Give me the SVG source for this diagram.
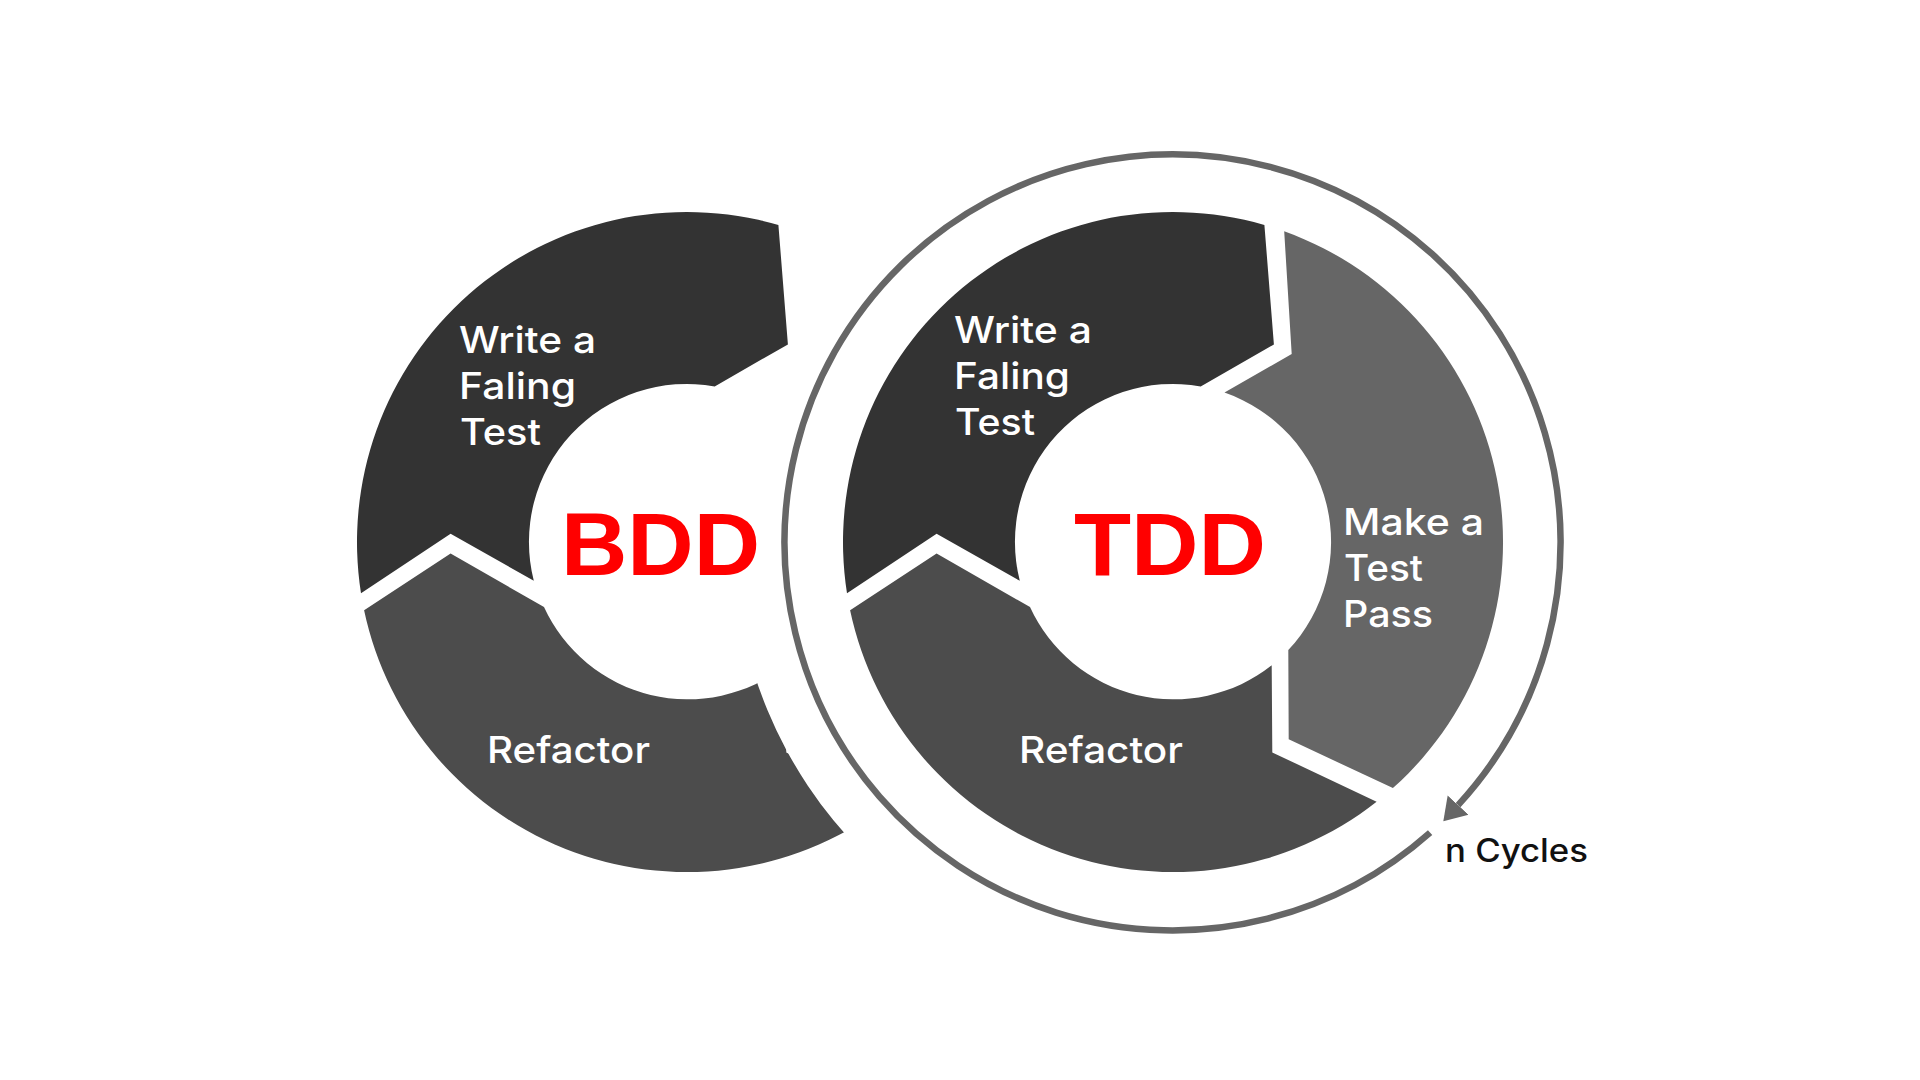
<svg xmlns="http://www.w3.org/2000/svg" width="1920" height="1080" viewBox="0 0 1920 1080">
  <style>
    .seg-dark { fill: #333333; }
    .seg-mid { fill: #4c4c4c; }
    .seg-light { fill: #666666; }
    .lbl { font-family: "Inter", "Open Sans", sans-serif; font-weight: 500; font-size: 37px; fill: #ffffff; }
    .big { font-family: "Liberation Sans", Arial, sans-serif; font-weight: bold; font-size: 89px; fill: #ff0000; }
    .note { font-family: "Inter", "Open Sans", sans-serif; font-weight: 500; font-size: 32px; fill: #111111; }
    .ring { fill: none; stroke: #666666; stroke-width: 6.5; }
  </style>
  <defs>
    <path id="p-write" d="M -326,51.2 A 330 330 0 0 1 91.4,-317.1 L 100.9,-197.6 L 27.7,-155.6 A 158 158 0 0 0 -153.2,38.8 L -236.4,-8.2 Z"/>
    <path id="p-make" d="M 111.2,-310.7 A 330 330 0 0 1 219.9,246.1 L 115.7,197.3 L 115.3,108.1 A 158 158 0 0 0 51.5,-149.4 L 118.7,-188 Z"/>
    <path id="p-refactor" d="M 203.6,259.8 A 330 330 0 0 1 -322.9,68.3 L -236.4,11.6 L -143,65 A 158 158 0 0 0 98.7,123.3 L 99.3,210.4 Z"/>
    <clipPath id="outside-tdd">
      <path clip-rule="evenodd" d="M 0,0 H 1920 V 1080 H 0 Z M 734,542 A 439 439 0 1 0 1612,542 A 439 439 0 1 0 734,542 Z"/>
    </clipPath>
    <marker id="arrow" markerUnits="userSpaceOnUse" markerWidth="24" markerHeight="30" refX="0" refY="13" orient="auto" viewBox="0 0 22 26">
      <path d="M 0,0 L 20,13 L 0,26 Z" fill="#666666"/>
    </marker>
  </defs>

  <rect x="0" y="0" width="1920" height="1080" fill="#ffffff"/>

  <!-- BDD cycle -->
  <g id="bdd-write" transform="translate(687,542)">
    <use href="#p-write" class="seg-dark"/>
  </g>
  <g id="bdd-refactor" clip-path="url(#outside-tdd)">
    <use href="#p-refactor" class="seg-mid" transform="translate(687,542)"/>
  </g>
  <g id="bdd-write-label">
    <text class="lbl" x="459" y="353" textLength="137" lengthAdjust="spacingAndGlyphs">Write a</text>
    <text class="lbl" x="459" y="399" textLength="117" lengthAdjust="spacingAndGlyphs">Faling</text>
    <text class="lbl" x="460" y="445" textLength="81" lengthAdjust="spacingAndGlyphs">Test</text>
  </g>
  <g id="bdd-refactor-label">
    <text class="lbl" x="487" y="763" textLength="163" lengthAdjust="spacingAndGlyphs">Refactor</text>
  </g>
  <g id="bdd-center">
    <text class="big" x="561" y="575" textLength="199" lengthAdjust="spacingAndGlyphs">BDD</text>
  </g>

  <!-- TDD cycle -->
  <g id="tdd-write" transform="translate(1173,542)">
    <use href="#p-write" class="seg-dark"/>
  </g>
  <g id="tdd-make" transform="translate(1173,542)">
    <use href="#p-make" class="seg-light"/>
  </g>
  <g id="tdd-refactor" transform="translate(1173,542)">
    <use href="#p-refactor" class="seg-mid"/>
  </g>
  <g id="tdd-write-label">
    <text class="lbl" x="954" y="343" textLength="138" lengthAdjust="spacingAndGlyphs">Write a</text>
    <text class="lbl" x="954" y="389" textLength="116" lengthAdjust="spacingAndGlyphs">Faling</text>
    <text class="lbl" x="955" y="435" textLength="80" lengthAdjust="spacingAndGlyphs">Test</text>
  </g>
  <g id="tdd-make-label">
    <text class="lbl" x="1343" y="535" textLength="141" lengthAdjust="spacingAndGlyphs">Make a</text>
    <text class="lbl" x="1344" y="581" textLength="79" lengthAdjust="spacingAndGlyphs">Test</text>
    <text class="lbl" x="1343" y="627" textLength="90" lengthAdjust="spacingAndGlyphs">Pass</text>
  </g>
  <g id="tdd-refactor-label">
    <text class="lbl" x="1019" y="763" textLength="164" lengthAdjust="spacingAndGlyphs">Refactor</text>
  </g>
  <g id="tdd-center">
    <text class="big" x="1074" y="575" textLength="192" lengthAdjust="spacingAndGlyphs">TDD</text>
  </g>

  <!-- connectors -->
  <g id="connectors">
    <path id="cycle-arrow" class="ring" d="M 1430.1,832.6 A 388 388 0 1 1 1458.1,805.1" marker-end="url(#arrow)"/>
  </g>
  <g id="n-cycles-label">
    <text class="note" x="1445" y="862" textLength="143" lengthAdjust="spacingAndGlyphs">n Cycles</text>
  </g>
</svg>
